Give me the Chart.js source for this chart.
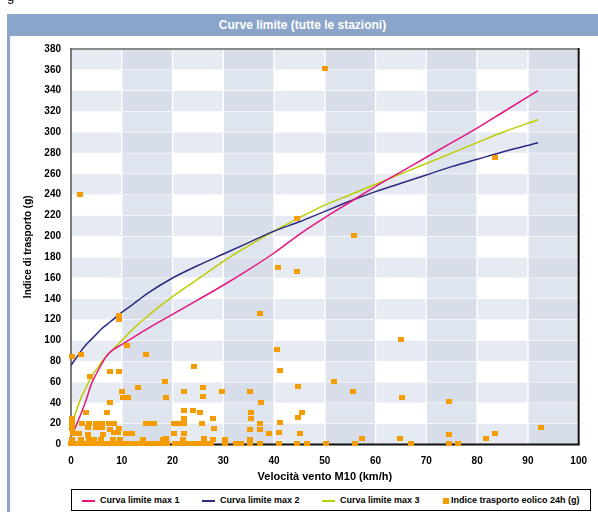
<!DOCTYPE html>
<html>
<head>
<meta charset="utf-8">
<script src="https://cdn.jsdelivr.net/npm/chart.js@4.4.1/dist/chart.umd.min.js"></script>
<style>
  body { margin: 0; width: 598px; height: 512px; overflow: hidden; background: #fff; position: relative;
         font-family: 'Liberation Sans', Arial, sans-serif; }
  #topg { position: absolute; left: 7px; top: -11px; font: 13px 'Liberation Sans', Arial, sans-serif; color: #000; }
  #head { position: absolute; left: 7px; top: 14px; width: 591px; height: 22px; background: #8ba4c9;
          color: #fff; font-weight: bold; font-size: 12px; text-align: center; line-height: 22px; }
  #edge { position: absolute; left: 7px; top: 36px; width: 3px; height: 476px; background: #8ba4c9; }
  #wrap { position: absolute; left: 0; top: 0; width: 598px; height: 512px; }
  #legend { position: absolute; left: 71px; top: 489px; width: 520px; height: 22px; border: 1px solid #000;
            box-sizing: border-box; background: #fff; font-weight: bold; font-size: 9px; }
  .item { position: absolute; top: 0; height: 20px; line-height: 20px; white-space: nowrap; }
  .sw { display: inline-block; vertical-align: middle; margin-right: 5px; }
</style>
</head>
<body>
<div id="topg">g</div>
<div id="head">Curve limite (tutte le stazioni)</div>
<div id="edge"></div>
<div id="wrap"><canvas id="graph"></canvas></div>
<div id="legend"></div>
<script>
// curve limite
const curvaX = [0, 0.5, 1, 2, 3, 4, 5, 6, 7, 8, 10, 12, 15, 20, 25, 30, 35, 40, 45, 50, 55, 60, 65, 70, 75, 80, 85, 92];
const curva1 = [null, 12, 18, 30, 43, 58, 68, 77, 85, 90, 96, 102, 111, 125, 139, 153, 168, 184, 202, 218, 233, 248, 262, 276, 290, 304, 319, 340];
const curva2 = [76, 79.5, 83, 90, 96, 101, 106, 111, 115, 119, 127, 134, 145, 160, 172, 183, 194, 205, 214, 224, 234, 243, 251, 259, 267, 274, 281, 290];
const curva3 = [15, 24, 32, 45, 55, 65, 72, 79, 85, 90, 100, 110, 123, 142, 159, 176, 191, 205, 218, 230, 240, 250, 260, 270, 280, 290, 300, 312];

// indice trasporto eolico 24h
const velocita = [
  1.7, 50.1, 44.6, 55.7, 40.7, 44.6, 37.2, 83.5, 65, 40.6, 41.1, 24.3, 9.5, 9.5, 11.1, 14.8, 0.1, 1.9, 3.8, 7.6, 9.5,
  18.6, 13.2, 10.1, 10.3, 11.3, 18.8, 7.6, 3, 7.1, 0.1, 0.1,
  22.3, 26.1, 26, 29.8, 35.3, 37.5, 44.7, 51.8, 55.5, 65.2, 74.4,
  22.3, 24.1, 25.4, 35.5, 45.6, 27.9, 35.5, 44.8,
  2.1, 3.5, 4.9, 6.2, 7.4, 8.4, 14.8, 15.8, 16.4, 20.2, 21.3, 22.3, 22.3, 25.9, 41.2, 37.3,
  28.1, 35.3, 37.3, 0.1, 3.3, 5.0, 6.2, 7.6, 9.5,
  0.4, 1.6, 3.3, 6.3, 8.5, 9.3, 10.8, 12, 20.2, 22.3, 39.1, 41, 45.2, 74.4, 83.5, 92.6,
  0.2, 1.9, 3.6, 4.5, 6, 8.2, 9.6, 14.2, 18.1, 18.8, 22.1, 26.2, 28, 30.3, 35.3, 57.4, 64.9, 81.7,
  0, 1, 2, 3, 4, 5, 6, 7, 8, 9, 10, 11, 12, 13, 14, 15, 16, 17, 18, 19,
  20.5, 21.5, 22.5, 23.5, 24.5, 25.5, 26.5, 27.5, 30.3, 32.5, 33.5, 35.3, 37.3, 41, 44.5, 46.4, 50.3, 55.9, 67, 74.4, 76.3
];
const trasporto = [
  240, 361, 217, 201, 170, 166, 126, 276, 101, 91.5, 71, 75, 124, 120, 95, 86, 85, 86, 65.5, 70, 70,
  61, 55, 51, 45, 45, 45, 40.5, 31, 31, 25, 20,
  51, 55, 46, 51, 51, 40.5, 56, 60.5, 51, 45, 41,
  32.5, 32.5, 31, 31, 31, 25, 25, 26,
  20, 20, 20, 20, 20, 20, 20, 20, 20, 20, 20, 20, 25, 20, 21, 20,
  15.5, 14.5, 14.5, 15, 16, 16, 16, 14, 15.5,
  11, 11, 10, 10, 12, 12, 11, 11, 11, 11, 11, 12, 11, 10, 11, 16,
  5, 5, 5, 5, 5, 5, 5, 5, 5, 6, 5, 6, 5, 5, 5, 6, 6, 6,
  1, 1, 1, 1, 1, 1, 1, 1, 1, 1, 1, 1, 1, 1, 1, 1, 1, 1, 1, 1,
  1, 1, 1, 1, 1, 1, 1, 1, 1, 1, 1, 1, 1, 1, 1, 1, 1, 1, 1, 1, 1
];

const xTicks = [0, 10, 20, 30, 40, 50, 60, 70, 80, 90, 100];
const yTicks = [0, 20, 40, 60, 80, 100, 120, 140, 160, 180, 200, 220, 240, 260, 280, 300, 320, 340, 360, 380];

const labels = ['Curva limite max 1', 'Curva limite max 2', 'Curva limite max 3', 'Indice trasporto eolico 24h (g)'];
const colors = ['#e5157f', '#2c2a80', '#bccd00', '#f49c00'];

const fontFam = "'Liberation Sans', Arial, sans-serif";

// quadratino arancione per i punti
let marker = document.createElement('canvas');
marker.width = 6; marker.height = 5;
let mctx = marker.getContext('2d');
mctx.fillStyle = colors[3];
mctx.fillRect(0, 0, 6, 5);

function curva(ys) {
  return curvaX.map((x, i) => ({x: x, y: ys[i]})).filter(p => p.y !== null);
}

const bands = {
  id: 'bands',
  beforeDraw(chart) {
    const {ctx, scales: {x, y}} = chart;
    for (let i = 0; i < xTicks.length - 1; i++) {
      for (let j = 0; j < yTicks.length - 1; j++) {
        const darkCol = i % 2 === 1;
        const lightRow = j % 2 === 0;
        let c = '#ffffff';
        if (darkCol && lightRow) c = '#d7dee9';
        else if (darkCol) c = '#dfe5ee';
        else if (lightRow) c = '#e6ebf3';
        const x0 = x.getPixelForValue(xTicks[i]), x1 = x.getPixelForValue(xTicks[i + 1]);
        const y0 = y.getPixelForValue(yTicks[j + 1]), y1 = y.getPixelForValue(yTicks[j]);
        ctx.fillStyle = c;
        ctx.fillRect(x0 + 0.7, y0 + 0.3, x1 - x0 - 1.4, y1 - y0 - 0.6);
      }
    }
  },
  beforeDatasetsDraw(chart) {
    const {ctx, chartArea: a} = chart;
    ctx.save();
    ctx.lineWidth = 2;
    ctx.strokeStyle = '#8a8a8a';
    ctx.beginPath(); ctx.moveTo(a.left, a.top); ctx.lineTo(a.right, a.top); ctx.stroke();
    ctx.strokeStyle = '#111';
    ctx.beginPath(); ctx.moveTo(a.right, a.top - 1); ctx.lineTo(a.right, a.bottom); ctx.stroke();
    ctx.beginPath(); ctx.moveTo(a.left, a.bottom); ctx.lineTo(a.right + 1, a.bottom); ctx.stroke();
    ctx.lineWidth = 1.6;
    ctx.strokeStyle = '#5a5a5a';
    ctx.beginPath(); ctx.moveTo(a.left, a.top - 1); ctx.lineTo(a.left, a.bottom); ctx.stroke();
    ctx.restore();
  }
};

function lineSet(i, ys) {
  return {
    type: 'scatter', label: labels[i], data: curva(ys), showLine: true,
    borderColor: colors[i], backgroundColor: colors[i], borderWidth: 1.5,
    pointRadius: 0, cubicInterpolationMode: 'monotone', order: 1
  };
}

const config = {
  type: 'scatter',
  data: {
    datasets: [
      lineSet(0, curva1),
      lineSet(1, curva2),
      lineSet(2, curva3),
      {
        label: labels[3],
        data: velocita.map((v, i) => ({x: v, y: trasporto[i]})),
        pointStyle: marker, pointRadius: 3, backgroundColor: colors[3], borderColor: colors[3],
        clip: false, order: 0
      }
    ]
  },
  options: {
    responsive: false,
    animation: false,
    layout: { padding: { top: 49, left: 0, right: 12, bottom: 25.5 } },
    plugins: { legend: { display: false }, title: { display: false }, tooltip: { enabled: false } },
    scales: {
      x: {
        type: 'linear', min: 0, max: 100,
        afterBuildTicks: s => { s.ticks = xTicks.map(v => ({value: v})); },
        afterFit: s => { s.height = 42; },
        grid: { display: false, drawTicks: false },
        border: { display: false },
        ticks: { color: '#000', padding: 11, font: { family: fontFam, size: 10, weight: 'bold' }, maxRotation: 0 },
        title: { display: true, text: 'Velocità vento M10 (km/h)', color: '#000',
                 font: { family: fontFam, size: 11, weight: 'bold' }, padding: { top: 0, bottom: 3 } }
      },
      y: {
        type: 'linear', min: 0, max: 380,
        afterBuildTicks: s => { s.ticks = yTicks.map(v => ({value: v})); },
        afterFit: s => { s.width = 71; },
        grid: { display: false, drawTicks: false },
        border: { display: false },
        ticks: { color: '#000', padding: 10, font: { family: fontFam, size: 10, weight: 'bold' } },
        title: { display: true, text: 'Indice di trasporto (g)', color: '#000',
                 font: { family: fontFam, size: 10, weight: 'bold' }, padding: { top: 22, bottom: 0 } }
      }
    }
  },
  plugins: [bands]
};

let canvas = document.getElementById('graph');
canvas.width = 598; canvas.height = 512;
let graphVisible = new Chart(canvas, config);

// legenda
const legendPos = [10, 130, 250, 371];
let legend = document.getElementById('legend');
labels.forEach((t, i) => {
  let item = document.createElement('div');
  item.className = 'item';
  item.style.left = legendPos[i] + 'px';
  let sw = document.createElement('span');
  sw.className = 'sw';
  if (i < 3) {
    sw.style.width = '13px'; sw.style.height = '2px'; sw.style.background = colors[i];
  } else {
    sw.style.width = '6px'; sw.style.height = '6px'; sw.style.background = colors[i];
    sw.style.marginRight = '2px';
  }
  item.appendChild(sw);
  item.appendChild(document.createTextNode(t));
  legend.appendChild(item);
});
</script>
</body>
</html>
